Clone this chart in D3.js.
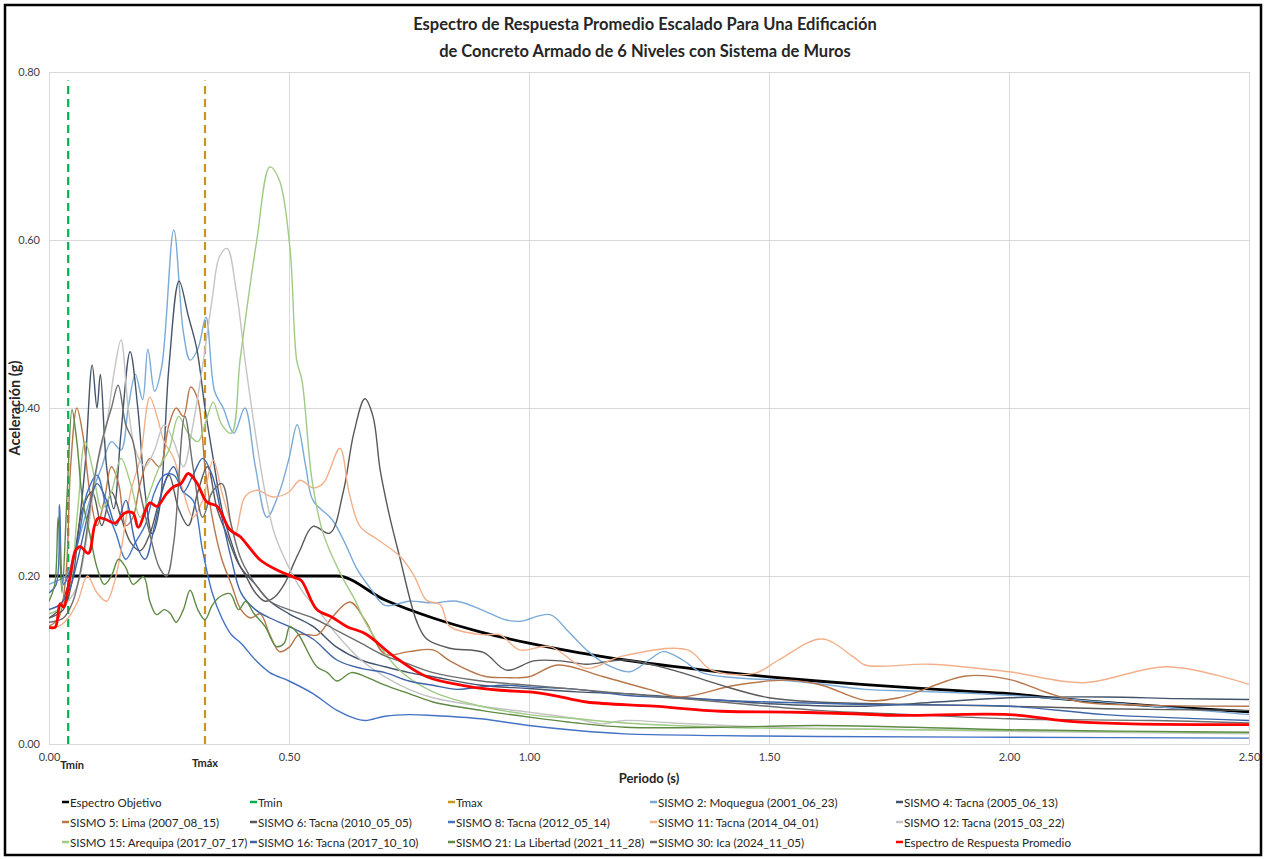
<!DOCTYPE html>
<html>
<head>
<meta charset="utf-8">
<script src="https://cdn.jsdelivr.net/npm/d3@7"></script>
<style>
  html, body { margin: 0; padding: 0; background: #fff; }
  svg { display: block; }
</style>
</head>
<body>
<svg id="chart" width="1266" height="859"></svg>
<script>
// ---- Data: spectral acceleration Sa (g) vs period T (s) ----
const xTicks = [0, 0.5, 1.0, 1.5, 2.0, 2.5];
const yTicks = [0, 0.2, 0.4, 0.6, 0.8];

const tMin = 0.04;
const tMax = 0.325;

const espectroObjetivo = [[0,0.2],[0.6,0.2],[0.7,0.1714],[0.8,0.15],[0.9,0.1333],[1.0,0.12],[1.1,0.1091],
  [1.2,0.1],[1.3,0.0923],[1.4,0.0857],[1.5,0.08],[1.6,0.075],[1.7,0.0706],[1.8,0.0667],[1.9,0.0632],
  [2.0,0.06],[2.1,0.0544],[2.2,0.0496],[2.3,0.0454],[2.4,0.0417],[2.5,0.0384]];

const sismo2 = [[0,0.19],[0.02,0.195],[0.035,0.2],[0.05,0.22],[0.07,0.26],[0.09,0.3],[0.11,0.33],[0.13,0.36],
  [0.15,0.35],[0.165,0.4],[0.18,0.44],[0.195,0.41],[0.206,0.47],[0.22,0.42],[0.235,0.45],[0.26,0.612],
  [0.28,0.49],[0.294,0.457],[0.31,0.47],[0.327,0.508],[0.345,0.42],[0.363,0.4],[0.385,0.37],[0.408,0.4],
  [0.43,0.33],[0.454,0.27],[0.48,0.3],[0.5,0.34],[0.517,0.38],[0.535,0.33],[0.55,0.29],[0.59,0.267],
  [0.62,0.235],[0.64,0.21],[0.67,0.185],[0.7,0.165],[0.75,0.17],[0.8,0.168],[0.85,0.17],[0.9,0.16],
  [0.95,0.148],[0.98,0.146],[1.044,0.154],[1.08,0.135],[1.12,0.112],[1.16,0.095],[1.21,0.086],[1.25,0.1],
  [1.28,0.11],[1.32,0.1],[1.36,0.085],[1.45,0.078],[1.52,0.076],[1.6,0.072],[1.7,0.065],[1.8,0.063],
  [2.0,0.058],[2.15,0.052],[2.3,0.045],[2.5,0.035]];

const sismo4 = [[0,0.15],[0.02,0.16],[0.04,0.19],[0.06,0.25],[0.075,0.33],[0.09,0.451],[0.1,0.4],[0.107,0.44],
  [0.12,0.33],[0.135,0.28],[0.15,0.37],[0.169,0.467],[0.185,0.4],[0.2,0.3],[0.215,0.25],[0.23,0.28],
  [0.25,0.45],[0.271,0.551],[0.29,0.51],[0.308,0.47],[0.325,0.4],[0.342,0.34],[0.36,0.28],[0.38,0.24],
  [0.4,0.21],[0.43,0.19],[0.46,0.17],[0.5,0.155],[0.55,0.14],[0.6,0.115],[0.65,0.1],[0.7,0.092],
  [0.75,0.085],[0.8,0.08],[0.9,0.07],[1.0,0.066],[1.1,0.062],[1.2,0.06],[1.3,0.056],[1.4,0.052],
  [1.5,0.048],[1.7,0.045],[1.85,0.05],[2.0,0.055],[2.2,0.056],[2.35,0.054],[2.5,0.053]];

const sismo5 = [[0,0.14],[0.02,0.15],[0.035,0.2],[0.045,0.33],[0.058,0.4],[0.07,0.37],[0.085,0.3],[0.1,0.26],
  [0.115,0.29],[0.13,0.33],[0.145,0.31],[0.16,0.26],[0.175,0.27],[0.19,0.31],[0.21,0.34],[0.23,0.33],
  [0.25,0.38],[0.265,0.4],[0.28,0.39],[0.295,0.425],[0.31,0.41],[0.325,0.33],[0.34,0.27],[0.36,0.22],
  [0.38,0.19],[0.4,0.16],[0.42,0.15],[0.44,0.155],[0.46,0.13],[0.48,0.11],[0.5,0.115],[0.52,0.13],
  [0.54,0.13],[0.56,0.13],[0.59,0.151],[0.627,0.169],[0.66,0.146],[0.7,0.107],[0.75,0.11],[0.8,0.112],
  [0.835,0.099],[0.905,0.081],[0.95,0.079],[1.0,0.08],[1.06,0.094],[1.155,0.08],[1.25,0.065],[1.315,0.056],
  [1.43,0.07],[1.54,0.076],[1.61,0.07],[1.7,0.052],[1.77,0.055],[1.91,0.081],[2.0,0.077],[2.08,0.061],
  [2.15,0.05],[2.3,0.046],[2.5,0.045]];

const sismo6 = [[0,0.15],[0.03,0.16],[0.05,0.2],[0.07,0.28],[0.09,0.3],[0.11,0.26],[0.13,0.3],[0.15,0.27],
  [0.17,0.24],[0.19,0.23],[0.21,0.25],[0.23,0.29],[0.25,0.32],[0.27,0.28],[0.29,0.26],[0.31,0.3],
  [0.33,0.33],[0.35,0.28],[0.37,0.25],[0.39,0.22],[0.41,0.2],[0.43,0.18],[0.45,0.17],[0.47,0.175],
  [0.49,0.19],[0.51,0.215],[0.523,0.231],[0.55,0.259],[0.585,0.251],[0.613,0.3],[0.635,0.37],[0.658,0.411],
  [0.675,0.39],[0.69,0.326],[0.71,0.27],[0.73,0.224],[0.766,0.146],[0.787,0.125],[0.835,0.114],[0.905,0.109],
  [0.953,0.088],[1.01,0.099],[1.065,0.099],[1.12,0.095],[1.2,0.1],[1.3,0.088],[1.4,0.07],[1.5,0.055],
  [1.6,0.05],[1.8,0.047],[2.0,0.045],[2.2,0.042],[2.5,0.04]];

const sismo8 = [[0,0.18],[0.015,0.19],[0.022,0.285],[0.03,0.19],[0.04,0.2],[0.06,0.24],[0.08,0.3],[0.1,0.32],
  [0.12,0.28],[0.14,0.25],[0.16,0.22],[0.18,0.24],[0.2,0.26],[0.22,0.3],[0.24,0.32],[0.26,0.32],
  [0.28,0.3],[0.3,0.29],[0.32,0.23],[0.34,0.18],[0.36,0.15],[0.38,0.13],[0.4,0.12],[0.43,0.1],
  [0.46,0.085],[0.5,0.075],[0.55,0.06],[0.6,0.04],[0.64,0.03],[0.66,0.028],[0.7,0.033],[0.75,0.035],
  [0.8,0.034],[0.9,0.03],[1.0,0.022],[1.1,0.016],[1.2,0.012],[1.4,0.01],[1.6,0.009],[2.0,0.008],[2.5,0.007]];

const sismo11 = [[0,0.14],[0.02,0.14],[0.04,0.15],[0.06,0.17],[0.08,0.2],[0.1,0.18],[0.12,0.17],[0.135,0.19],
  [0.15,0.23],[0.17,0.3],[0.19,0.34],[0.21,0.413],[0.225,0.39],[0.24,0.36],[0.26,0.34],[0.28,0.3],
  [0.3,0.27],[0.32,0.29],[0.342,0.338],[0.36,0.3],[0.375,0.27],[0.388,0.249],[0.408,0.294],[0.433,0.302],
  [0.467,0.294],[0.5,0.3],[0.523,0.314],[0.55,0.305],[0.571,0.31],[0.606,0.352],[0.625,0.3],[0.648,0.259],
  [0.683,0.244],[0.73,0.224],[0.759,0.202],[0.787,0.171],[0.815,0.166],[0.835,0.14],[0.905,0.13],[0.94,0.13],
  [0.98,0.112],[1.044,0.116],[1.12,0.09],[1.19,0.104],[1.33,0.112],[1.38,0.088],[1.47,0.084],[1.52,0.1],
  [1.61,0.125],[1.675,0.104],[1.7,0.094],[1.835,0.095],[2.0,0.086],[2.155,0.073],[2.33,0.092],[2.5,0.071]];

const sismo12 = [[0,0.155],[0.02,0.16],[0.04,0.17],[0.06,0.19],[0.08,0.25],[0.1,0.33],[0.12,0.38],[0.135,0.44],
  [0.15,0.481],[0.165,0.4],[0.18,0.35],[0.2,0.33],[0.22,0.35],[0.24,0.38],[0.26,0.36],[0.28,0.33],
  [0.3,0.38],[0.32,0.45],[0.34,0.53],[0.355,0.58],[0.371,0.59],[0.39,0.54],[0.41,0.45],[0.43,0.37],
  [0.45,0.3],[0.47,0.25],[0.5,0.21],[0.53,0.18],[0.56,0.16],[0.6,0.13],[0.65,0.1],[0.7,0.08],
  [0.75,0.065],[0.8,0.055],[0.9,0.045],[1.0,0.038],[1.1,0.03],[1.15,0.024],[1.2,0.028],[1.3,0.025],
  [1.5,0.02],[1.8,0.017],[2.0,0.015],[2.5,0.012]];

const sismo15 = [[0,0.155],[0.02,0.16],[0.04,0.18],[0.06,0.28],[0.075,0.36],[0.09,0.33],[0.11,0.28],[0.13,0.3],
  [0.15,0.34],[0.17,0.31],[0.19,0.27],[0.21,0.3],[0.23,0.33],[0.25,0.35],[0.27,0.39],[0.29,0.37],
  [0.31,0.36],[0.33,0.39],[0.342,0.407],[0.36,0.38],[0.38,0.37],[0.398,0.457],[0.415,0.53],[0.433,0.6],
  [0.46,0.687],[0.48,0.671],[0.502,0.59],[0.516,0.457],[0.527,0.433],[0.548,0.314],[0.571,0.251],[0.606,0.204],
  [0.638,0.171],[0.66,0.144],[0.73,0.088],[0.8,0.062],[0.9,0.045],[1.0,0.035],[1.1,0.03],[1.2,0.025],
  [1.4,0.02],[1.6,0.018],[2.0,0.016],[2.5,0.013]];

const sismo16 = [[0,0.16],[0.02,0.165],[0.04,0.18],[0.06,0.22],[0.08,0.27],[0.1,0.31],[0.12,0.29],[0.14,0.26],
  [0.16,0.29],[0.18,0.24],[0.2,0.22],[0.22,0.26],[0.24,0.31],[0.26,0.33],[0.28,0.3],[0.3,0.32],
  [0.32,0.34],[0.34,0.32],[0.36,0.27],[0.38,0.22],[0.4,0.18],[0.43,0.16],[0.46,0.15],[0.5,0.14],
  [0.55,0.125],[0.6,0.1],[0.65,0.09],[0.7,0.085],[0.75,0.075],[0.8,0.07],[0.85,0.065],[0.9,0.068],
  [0.95,0.07],[1.0,0.068],[1.1,0.065],[1.2,0.058],[1.3,0.055],[1.4,0.052],[1.5,0.05],[1.7,0.047],
  [2.0,0.045],[2.2,0.035],[2.5,0.028]];

const sismo21 = [[0,0.17],[0.012,0.19],[0.019,0.27],[0.027,0.18],[0.038,0.3],[0.048,0.398],[0.058,0.36],[0.07,0.29],
  [0.085,0.25],[0.1,0.21],[0.115,0.19],[0.13,0.2],[0.145,0.22],[0.16,0.21],[0.175,0.19],[0.197,0.199],
  [0.21,0.17],[0.224,0.154],[0.24,0.16],[0.252,0.156],[0.265,0.145],[0.28,0.16],[0.294,0.183],[0.31,0.16],
  [0.325,0.148],[0.34,0.165],[0.355,0.175],[0.377,0.179],[0.395,0.16],[0.41,0.17],[0.426,0.156],[0.45,0.14],
  [0.474,0.116],[0.49,0.12],[0.502,0.14],[0.52,0.13],[0.558,0.092],[0.58,0.085],[0.6,0.075],[0.63,0.085],
  [0.66,0.08],[0.7,0.07],[0.75,0.06],[0.8,0.05],[0.9,0.04],[1.0,0.032],[1.1,0.025],[1.2,0.02],
  [1.4,0.02],[1.6,0.022],[1.8,0.02],[2.0,0.017],[2.5,0.014]];

const sismo30 = [[0,0.145],[0.03,0.15],[0.05,0.17],[0.07,0.22],[0.09,0.3],[0.11,0.36],[0.13,0.4],[0.144,0.427],
  [0.16,0.38],[0.175,0.36],[0.19,0.3],[0.21,0.25],[0.23,0.21],[0.245,0.2],[0.26,0.24],[0.283,0.39],
  [0.3,0.33],[0.32,0.27],[0.34,0.3],[0.36,0.31],[0.38,0.26],[0.4,0.22],[0.43,0.19],[0.46,0.17],
  [0.5,0.16],[0.55,0.15],[0.6,0.135],[0.65,0.12],[0.7,0.105],[0.75,0.095],[0.8,0.085],[0.9,0.075],
  [1.0,0.07],[1.1,0.065],[1.2,0.06],[1.4,0.05],[1.6,0.04],[1.8,0.035],[2.0,0.03],[2.3,0.028],[2.5,0.025]];

const espectroPromedio = [[0,0.139],[0.013,0.139],[0.023,0.167],[0.03,0.163],[0.044,0.199],[0.055,0.23],
  [0.065,0.235],[0.082,0.227],[0.095,0.26],[0.103,0.269],[0.12,0.267],[0.1375,0.263],[0.158,0.275],
  [0.175,0.275],[0.186,0.258],[0.21,0.287],[0.225,0.283],[0.245,0.298],[0.259,0.306],[0.275,0.31],
  [0.29,0.322],[0.308,0.311],[0.329,0.288],[0.35,0.283],[0.377,0.255],[0.398,0.247],[0.42,0.232],
  [0.44,0.219],[0.475,0.207],[0.508,0.199],[0.525,0.195],[0.558,0.16],[0.59,0.151],[0.62,0.14],
  [0.66,0.131],[0.717,0.105],[0.787,0.08],[0.87,0.069],[0.94,0.064],[1.0,0.062],[1.05,0.058],
  [1.12,0.05],[1.26,0.045],[1.4,0.039],[1.54,0.038],[1.675,0.036],[1.77,0.034],[2.0,0.035],
  [2.15,0.026],[2.5,0.023]];

// ---- Series definitions (draw order) ----
const records = [
  { name: "SISMO 2: Moquegua (2001_06_23)", data: sismo2, color: "#7AAAD8" },
  { name: "SISMO 4: Tacna (2005_06_13)", data: sismo4, color: "#44546A" },
  { name: "SISMO 5: Lima (2007_08_15)", data: sismo5, color: "#B8764A" },
  { name: "SISMO 6: Tacna (2010_05_05)", data: sismo6, color: "#595959" },
  { name: "SISMO 8: Tacna (2012_05_14)", data: sismo8, color: "#4472C4" },
  { name: "SISMO 11: Tacna (2014_04_01)", data: sismo11, color: "#F2B08A" },
  { name: "SISMO 12: Tacna (2015_03_22)", data: sismo12, color: "#C4C4C4" },
  { name: "SISMO 15: Arequipa (2017_07_17)", data: sismo15, color: "#9FCB84" },
  { name: "SISMO 16: Tacna (2017_10_10)", data: sismo16, color: "#3E64A8" },
  { name: "SISMO 21: La Libertad (2021_11_28)", data: sismo21, color: "#5E8A44" },
  { name: "SISMO 30: Ica (2024_11_05)", data: sismo30, color: "#6E6E6E" }
];

const colObjetivo = "#000000", colTmin = "#00B050", colTmax = "#C9961A", colPromedio = "#FF0000";

// ---- Layout ----
const svg = d3.select("#chart");
const W = 1266, H = 859;
const plot = { left: 49, right: 1249, top: 72, bottom: 744 };
const font = "Lato, 'Open Sans', sans-serif";

const x = d3.scaleLinear().domain([0, 2.5]).range([plot.left, plot.right]);
const y = d3.scaleLinear().domain([0, 0.8]).range([plot.bottom, plot.top]);

svg.append("rect").attr("x", 0).attr("y", 0).attr("width", W).attr("height", H).attr("fill", "#fff");
svg.append("rect").attr("x", 5).attr("y", 5).attr("width", 1256).attr("height", 850)
  .attr("fill", "none").attr("stroke", "#000").attr("stroke-width", 2.5);

// Title
const title = svg.append("text").attr("text-anchor", "middle")
  .attr("font-family", font).attr("font-weight", 700).attr("font-size", 16.5).attr("fill", "#262626");
title.append("tspan").attr("x", 645).attr("y", 30).text("Espectro de Respuesta Promedio Escalado Para Una Edificación");
title.append("tspan").attr("x", 645).attr("y", 57).text("de Concreto Armado de 6 Niveles con Sistema de Muros");

// Gridlines
const grid = svg.append("g").attr("stroke", "#D9D9D9").attr("stroke-width", 1);
grid.selectAll("line.h").data(yTicks).join("line")
  .attr("x1", plot.left).attr("x2", plot.right)
  .attr("y1", d => Math.round(y(d)) + 0.5).attr("y2", d => Math.round(y(d)) + 0.5);
grid.selectAll("line.v").data(xTicks).join("line")
  .attr("y1", plot.top).attr("y2", plot.bottom)
  .attr("x1", d => Math.round(x(d)) + 0.5).attr("x2", d => Math.round(x(d)) + 0.5);

// Axes (labels only, Excel style)
const yAxis = d3.axisLeft(y).tickValues(yTicks).tickFormat(d3.format(".2f")).tickSize(0).tickPadding(9);
const gy = svg.append("g").attr("transform", `translate(${plot.left},0)`).call(yAxis);
gy.select(".domain").remove();
gy.selectAll("text").attr("font-family", font).attr("font-size", 11).attr("fill", "#404040");

const xAxis = d3.axisBottom(x).tickValues(xTicks).tickFormat(d3.format(".2f")).tickSize(0).tickPadding(9);
const gx = svg.append("g").attr("transform", `translate(0,${plot.bottom})`).call(xAxis);
gx.select(".domain").attr("stroke", "#D9D9D9");
gx.selectAll("text").attr("font-family", font).attr("font-size", 11).attr("fill", "#404040");

// Axis titles
svg.append("text").attr("x", x(1.25)).attr("y", 783).attr("text-anchor", "middle")
  .attr("font-family", font).attr("font-weight", 700).attr("font-size", 13).attr("fill", "#262626")
  .text("Periodo (s)");
svg.append("text").attr("transform", `translate(20,${(plot.top + plot.bottom) / 2}) rotate(-90)`)
  .attr("text-anchor", "middle").attr("font-family", font).attr("font-weight", 700)
  .attr("font-size", 14.5).attr("fill", "#262626").text("Aceleración (g)");

// Lines
svg.append("clipPath").attr("id", "plotclip").append("rect")
  .attr("x", plot.left).attr("y", plot.top - 2).attr("width", plot.right - plot.left + 1)
  .attr("height", plot.bottom - plot.top + 2);
const lines = svg.append("g").attr("clip-path", "url(#plotclip)");

const smooth = d3.line().x(d => x(d[0])).y(d => y(d[1])).curve(d3.curveCatmullRom.alpha(0.5));
const straight = d3.line().x(d => x(d[0])).y(d => y(d[1])).curve(d3.curveMonotoneX);

lines.append("path").datum(espectroObjetivo).attr("d", straight)
  .attr("fill", "none").attr("stroke", colObjetivo).attr("stroke-width", 2.8);

// Tmin / Tmax markers
[[tMin, colTmin], [tMax, colTmax]].forEach(([t, c]) => {
  lines.append("line").attr("x1", x(t)).attr("x2", x(t)).attr("y1", y(0)).attr("y2", y(0.79))
    .attr("stroke", c).attr("stroke-width", 2.2).attr("stroke-dasharray", "8,5");
});

records.forEach(r => {
  lines.append("path").datum(r.data).attr("d", smooth)
    .attr("fill", "none").attr("stroke", r.color).attr("stroke-width", 1.4);
});

lines.append("path").datum(espectroPromedio).attr("d", smooth)
  .attr("fill", "none").attr("stroke", colPromedio).attr("stroke-width", 2.8);

// Tmín / Tmáx labels under the axis
svg.append("text").attr("x", x(tMin) + 4).attr("y", 769).attr("text-anchor", "middle")
  .attr("font-family", font).attr("font-weight", 700).attr("font-size", 11).attr("fill", "#262626").text("Tmín");
svg.append("text").attr("x", x(tMax)).attr("y", 767).attr("text-anchor", "middle")
  .attr("font-family", font).attr("font-weight", 700).attr("font-size", 11).attr("fill", "#262626").text("Tmáx");

// Legend
const legendItems = [
  { name: "Espectro Objetivo", color: colObjetivo },
  { name: "Tmin", color: colTmin },
  { name: "Tmax", color: colTmax },
  ...records.map(r => ({ name: r.name, color: r.color })),
  { name: "Espectro de Respuesta Promedio", color: colPromedio }
];
const legCols = [62, 250, 448, 650, 896];
const legRows = [802, 822, 842];
const leg = svg.append("g").attr("font-family", font).attr("font-size", 11.6).attr("fill", "#262626");
legendItems.forEach((it, i) => {
  const cx = legCols[i % 5], cy = legRows[Math.floor(i / 5)];
  leg.append("line").attr("x1", cx).attr("x2", cx + 7).attr("y1", cy).attr("y2", cy)
    .attr("stroke", it.color).attr("stroke-width", 2.5);
  leg.append("text").attr("x", cx + 8).attr("y", cy + 4.5).text(it.name);
});
</script>
</body>
</html>
